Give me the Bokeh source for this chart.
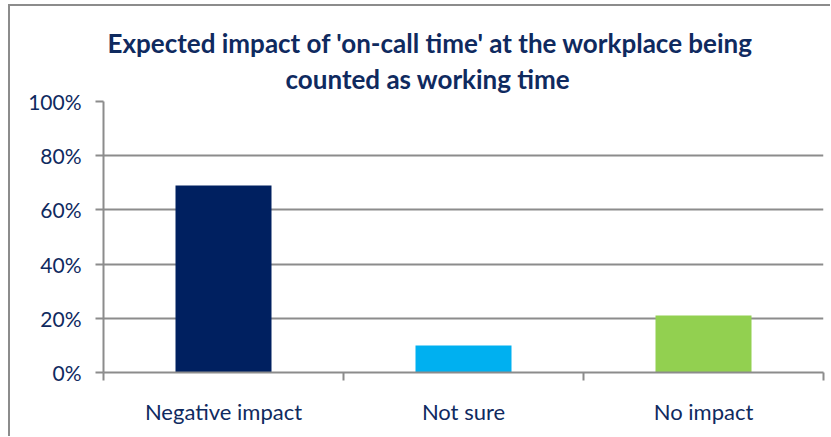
from bokeh.plotting import figure
from bokeh.models import Range1d, FixedTicker, NumeralTickFormatter, Title
from bokeh.embed import file_html
from bokeh.resources import INLINE

categories = ["Negative impact", "Not sure", "No impact"]
values = [0.69, 0.10, 0.21]
colors = ["#002060", "#00B0F0", "#92D050"]
y_ticks = [0, 0.2, 0.4, 0.6, 0.8, 1.0]
title_lines = ["Expected impact of 'on-call time' at the workplace being",
               "counted as working time"]

TEXT = "#0f2a5f"
GRID = "#8c8c8c"

p = figure(width=822, height=432, output_backend="svg", toolbar_location=None,
           x_range=Range1d(0, len(categories)), y_range=Range1d(0, 1),
           min_border_left=93, min_border_right=9, min_border_top=95, min_border_bottom=66)
p.styles = {"margin-left": "8px", "margin-top": "4px",
            "border-left": "2px solid #8c8c8c", "border-top": "2px solid #8c8c8c"}

xs = [i + 0.5 for i in range(len(categories))]
p.vbar(x=xs, top=values, width=0.4, color=colors, line_color=None)

p.outline_line_color = None
p.background_fill_color = "white"
p.border_fill_color = "white"

def style_title(t):
    t.text_font = "Lato"
    t.text_font_style = "bold"
    t.text_font_size = "26px"
    t.text_color = TEXT
    t.align = "left"

p.title.text = title_lines[0]
style_title(p.title)
p.title.offset = 4
p.title.standoff = -11
t2 = Title(text=title_lines[1])
style_title(t2)
t2.offset = 182
t2.standoff = 14
p.add_layout(t2, "above")

# x axis
xa = p.xaxis[0]
xa.ticker = FixedTicker(ticks=xs, minor_ticks=[0, 1, 2, 3])
xa.major_label_overrides = {x: c for x, c in zip(xs, categories)}
xa.major_tick_line_color = None
xa.minor_tick_line_color = GRID
xa.minor_tick_line_width = 2
xa.minor_tick_out = 8
xa.minor_tick_in = 0
xa.axis_line_color = GRID
xa.axis_line_width = 2
xa.major_label_text_font = "Lato"
xa.major_label_text_font_size = "22px"
xa.major_label_text_color = TEXT
xa.major_label_standoff = 17

# y axis
ya = p.yaxis[0]
ya.ticker = FixedTicker(ticks=y_ticks)
ya.formatter = NumeralTickFormatter(format="0%")
ya.major_tick_line_color = GRID
ya.major_tick_line_width = 2
ya.major_tick_out = 8
ya.major_tick_in = 0
ya.minor_tick_line_color = None
ya.axis_line_color = GRID
ya.axis_line_width = 2
ya.major_label_text_font = "Lato"
ya.major_label_text_font_size = "21px"
ya.major_label_text_color = TEXT
ya.major_label_standoff = 14

p.xgrid.grid_line_color = None
p.ygrid.grid_line_color = GRID
p.ygrid.grid_line_width = 2

open("out.html", "w").write(file_html(p, INLINE))
